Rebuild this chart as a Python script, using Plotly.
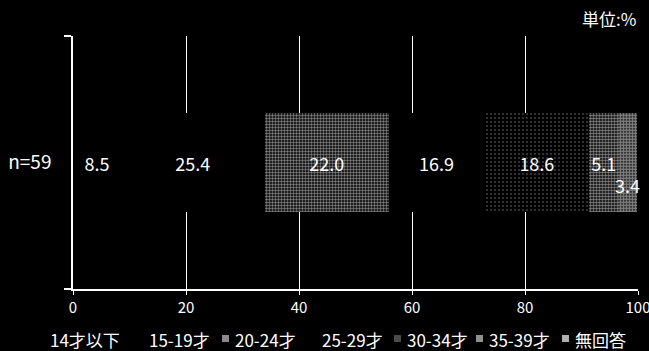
import plotly.graph_objects as go

categories = ["n=59"]
series_names = ["14才以下", "15-19才", "20-24才", "25-29才", "30-34才", "35-39才", "無回答"]
series_values = [8.5, 25.4, 22.0, 16.9, 18.6, 5.1, 3.4]
tick_values = [0, 20, 40, 60, 80, 100]
unit_label = "単位:%"

FONT = "Noto Sans CJK JP"
W, H = 649, 351
ML, MR, MT, MB = 73, 11, 36, 62
PW, PH = W - ML - MR, H - MT - MB

# texture per series: (dot size, solidity); None = plain black
patterns = [None, None, (3, 0.5), None, (4, 0.1), (3, 0.55), (3, 0.75)]
legend_swatch = ["black", "black", "#8a8a8a", "black", "#4a4a4a", "#8f8f8f", "#b0b0b0"]
legend_text_px = [48, 147, 233, 320, 405, 487, 573]   # left edge of legend texts
legend_y_px = 339


def px_x(px):
    return (px - ML) / PW


def px_y(py):
    return (H - MB - py) / PH


fig = go.Figure()
for i, (name, val) in enumerate(zip(series_names, series_values)):
    marker = dict(color="black", line=dict(width=0))
    if patterns[i]:
        sz, sol = patterns[i]
        marker["pattern"] = dict(shape=".", fgcolor="white", bgcolor="black",
                                 size=sz, solidity=sol, fillmode="overlay")
    last = i == len(series_names) - 1
    fig.add_trace(go.Bar(
        y=categories, x=[val], name=name, orientation="h",
        marker=marker,
        text=None if last else [f"{val:.1f}"],
        textposition="inside", insidetextanchor="middle",
        constraintext="none", cliponaxis=False,
        textfont=dict(color="white", size=18, family=FONT),
        hoverinfo="skip", showlegend=False,
    ))

# label of the last (narrow) segment, offset below as in the original
cum = sum(series_values[:-1])
fig.add_annotation(x=cum + series_values[-1] / 2, y=categories[0],
                   text=f"{series_values[-1]:.1f}", showarrow=False,
                   yshift=-22, font=dict(color="white", size=18, family=FONT))

# unit label
fig.add_annotation(xref="paper", yref="paper", x=1.0, y=1.0,
                   xanchor="right", yanchor="bottom", yshift=3,
                   text=unit_label, showarrow=False,
                   font=dict(color="white", size=17, family=FONT))

# legend drawn below the axis
for name, tx, col in zip(series_names, legend_text_px, legend_swatch):
    fig.add_annotation(xref="paper", yref="paper", x=px_x(tx), y=px_y(legend_y_px),
                       xanchor="left", yanchor="middle", text=name, showarrow=False,
                       font=dict(color="white", size=17, family=FONT))
    fig.add_shape(type="rect", xref="paper", yref="paper",
                  x0=px_x(tx - 11), x1=px_x(tx - 4),
                  y0=px_y(legend_y_px + 3), y1=px_y(legend_y_px - 4),
                  fillcolor=col, line=dict(width=0), layer="above")

fig.update_layout(
    width=W, height=H,
    paper_bgcolor="black", plot_bgcolor="black",
    barmode="stack", bargap=0.605,
    margin=dict(l=ML, r=MR, t=MT, b=MB, autoexpand=False),
    font=dict(family=FONT, color="white", size=14),
    showlegend=False,
    xaxis=dict(range=[0, 100], tickvals=tick_values, showgrid=True,
               gridcolor="white", gridwidth=1, showline=True, linecolor="white",
               linewidth=1.5, ticks="outside", ticklen=4, tickcolor="white",
               tickwidth=1, zeroline=False, ticklabeloverflow="allow",
               tickfont=dict(size=15, color="white", family=FONT),
               fixedrange=True),
    yaxis=dict(showline=True, linecolor="white", linewidth=1.5,
               ticks="outside", tickson="boundaries", ticklen=7,
               tickcolor="white", tickwidth=1.5, showgrid=False,
               tickfont=dict(size=19, color="white", family=FONT),
               ticklabelstandoff=16, fixedrange=True),
)

fig.write_html("out.html", config={"displayModeBar": False},
               post_script="document.body.style.margin='0';"
                           "document.body.style.background='black';")
